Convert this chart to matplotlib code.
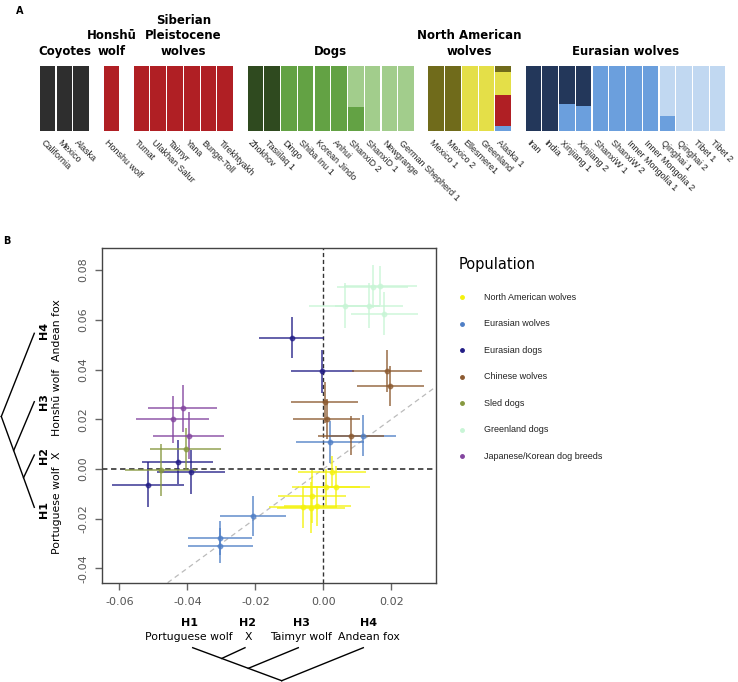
import numpy as np
import matplotlib.pyplot as plt

plt.rcParams['axes.unicode_minus'] = False
plt.rcParams['font.family'] = ['DejaVu Sans']

# ---------------- panel A data (ancestry proportions) ----------------
groups = ["Coyotes", "Honshū\nwolf", "Siberian\nPleistocene\nwolves", "Dogs",
          "North American\nwolves", "Eurasian wolves"]
group_samples = [
    ["California", "Mexico", "Alaska"],
    ["Honshu wolf"],
    ["Tumat", "Ulakhan Salur", "Taimyr", "Yana", "Bunge-Toll", "Tirekhtyakh"],
    ["Zhokhov", "Tasiilaq 1", "Dingo", "Shiba Inu 1", "Korean Jindo", "Anhui",
     "ShanxiD 2", "ShanxiD 1", "Newgrange", "German Shepherd 1"],
    ["Mexico 1", "Mexico 2", "Ellesmere1", "Greenland", "Alaska 1"],
    ["Iran", "India", "Xinjiang 1", "Xinjiang 2", "ShanxiW 1", "ShanxiW 2",
     "Inner Mongolia 1", "Inner Mongolia 2", "Qinghai 1", "Qinghai 2", "Tibet 1", "Tibet 2"],
]
cluster_colors = {"coyote": "#2e2e2e", "red": "#b01f24", "dkgreen": "#2f4a1f",
                  "green": "#63a244", "ltgreen": "#a2cd8c", "olive": "#706b1b",
                  "yellow": "#e4df48", "navy": "#23375a", "blue": "#6b9fdd",
                  "ltblue": "#c1d8f1"}
main_cluster = ["coyote", "coyote", "coyote",
                "red",
                "red", "red", "red", "red", "red", "red",
                "dkgreen", "dkgreen", "green", "green", "green", "green",
                "green", "ltgreen", "ltgreen", "ltgreen",
                "olive", "olive", "yellow", "yellow", "olive",
                "navy", "navy", "navy", "navy", "blue", "blue", "blue", "blue",
                "blue", "ltblue", "ltblue", "ltblue"]
# admixed samples: (cluster, fraction) from bottom to top
admixed = {
    "ShanxiD 2": [("green", 0.37), ("ltgreen", 0.63)],
    "Alaska 1": [("blue", 0.08), ("red", 0.47), ("yellow", 0.35), ("olive", 0.10)],
    "Xinjiang 1": [("blue", 0.41), ("navy", 0.59)],
    "Xinjiang 2": [("blue", 0.38), ("navy", 0.62)],
    "Qinghai 1": [("blue", 0.235), ("ltblue", 0.765)],
}

# ---------------- panel B data (f4 statistics) ----------------
pop_names = ["North American wolves", "Eurasian wolves", "Eurasian dogs", "Chinese wolves",
             "Sled dogs", "Greenland dogs", "Japanese/Korean dog breeds"]
pop_colors = ["#f4f20c", "#4f7fc6", "#221d86", "#8c5a30", "#86983f", "#c8f5d6", "#83459f"]

na_x = [0.0025, 0.0009, 0.0038, -0.0034, -0.0059, -0.0037, -0.0018]
na_y = [-0.0013, -0.0074, -0.0071, -0.0111, -0.0152, -0.0156, -0.0148]
na_xerr = [0.0100, 0.0100, 0.0099, 0.0101, 0.0100, 0.0100, 0.0099]
na_yerr = [0.0065, 0.0075, 0.0082, 0.0105, 0.0084, 0.0103, 0.0080]

ew_x = [0.0115, 0.0018, -0.0207, -0.0304, -0.0303]
ew_y = [0.0134, 0.0107, -0.0190, -0.0278, -0.0309]
ew_xerr = [0.0099, 0.0100, 0.0098, 0.0095, 0.0095]
ew_yerr = [0.0082, 0.0084, 0.0082, 0.0070, 0.0070]

ed_x = [-0.0093, -0.0003, -0.0429, -0.0516, -0.0389]
ed_y = [0.0528, 0.0393, 0.0028, -0.0063, -0.0011]
ed_xerr = [0.0096, 0.0093, 0.0104, 0.0106, 0.0101]
ed_yerr = [0.0082, 0.0087, 0.0090, 0.0090, 0.0089]

cw_x = [0.0188, 0.0197, 0.0004, 0.0010, 0.0081]
cw_y = [0.0393, 0.0334, 0.0268, 0.0201, 0.0134]
cw_xerr = [0.0103, 0.0098, 0.0099, 0.0099, 0.0096]
cw_yerr = [0.0084, 0.0082, 0.0082, 0.0082, 0.0080]

sd_x = [-0.0405, -0.0478]
sd_y = [0.0080, -0.0004]
sd_xerr = [0.0105, 0.0104]
sd_yerr = [0.0086, 0.0104]

gd_x = [0.0145, 0.0167, 0.0062, 0.0134, 0.0179]
gd_y = [0.0734, 0.0738, 0.0657, 0.0657, 0.0624]
gd_xerr = [0.0104, 0.0107, 0.0103, 0.0100, 0.0098]
gd_yerr = [0.0086, 0.0080, 0.0090, 0.0090, 0.0087]

jk_x = [-0.0443, -0.0414, -0.0396]
jk_y = [0.0200, 0.0244, 0.0134]
jk_xerr = [0.0107, 0.0101, 0.0104]
jk_yerr = [0.0094, 0.0094, 0.0095]

pop_data = [(na_x, na_y, na_xerr, na_yerr), (ew_x, ew_y, ew_xerr, ew_yerr),
            (ed_x, ed_y, ed_xerr, ed_yerr), (cw_x, cw_y, cw_xerr, cw_yerr),
            (sd_x, sd_y, sd_xerr, sd_yerr), (gd_x, gd_y, gd_xerr, gd_yerr),
            (jk_x, jk_y, jk_xerr, jk_yerr)]

tree_labels = ["Portuguese wolf", "X", "Taimyr wolf", "Andean fox"]
tree_labels_left = ["Portuguese wolf", "X", "Honshū wolf", "Andean fox"]

W, H = 738, 682
fig = plt.figure(figsize=(W / 100, H / 100), dpi=100)


def fbox(x0, y0, x1, y1):
    # pixel box (top-left origin) -> figure fraction rect
    return [x0 / W, 1 - y1 / H, (x1 - x0) / W, (y1 - y0) / H]


# ---------------- panel A ----------------
axA = fig.add_axes(fbox(39.3, 65.7, 726, 131))
gap = 0.8
pos = []
group_centers = []
x = 0.0
for names in group_samples:
    start = x
    for n in names:
        pos.append(x + 0.5)
        x += 1
    group_centers.append((start + x) / 2)
    x += gap
axA.set_xlim(0, x - gap)
axA.set_ylim(0, 1)
axA.axis('off')

samples = [n for names in group_samples for n in names]
for p, name, main in zip(pos, samples, main_cluster):
    parts = admixed.get(name, [(main, 1.0)])
    bottom = 0
    for cl, frac in parts:
        axA.bar(p, frac, width=0.93, bottom=bottom, color=cluster_colors[cl], linewidth=0)
        bottom += frac
    axA.text(p - 0.15, -0.11, name, rotation=-45, rotation_mode='anchor', ha='left', va='top',
             fontsize=6.5, family='Liberation Sans', color='#222222', clip_on=False)

for c, g in zip(group_centers, groups):
    axA.text(c, 1.12, g, ha='center', va='bottom', fontsize=8.5, fontweight='bold',
             linespacing=1.25, clip_on=False)

# ---------------- panel B ----------------
axB = fig.add_axes(fbox(102, 248, 436, 582.7))
axB.axhline(0, color='#444444', ls=(0, (3, 2)), lw=1.3, zorder=1)
axB.axvline(0, color='#333333', ls=(0, (3, 2)), lw=1.0, zorder=1)
axB.axline((0, 0), slope=1, color='#bbbbbb', ls=(0, (4, 3)), lw=0.9, zorder=1)

for (px, py, pxe, pye), col in zip(pop_data, pop_colors):
    axB.errorbar(px, py, xerr=pxe, yerr=pye, fmt='o', ms=3.2, color=col, ecolor=col,
                 elinewidth=1.4, capsize=0, alpha=0.7, zorder=3)

axB.set_xlim(-0.0651, 0.0331)
axB.set_ylim(-0.0458, 0.0889)
axB.set_xticks([-0.06, -0.04, -0.02, 0.0, 0.02])
axB.set_yticks([-0.04, -0.02, 0.0, 0.02, 0.04, 0.06, 0.08])
axB.set_xticklabels(["%.2f" % v for v in axB.get_xticks()])
axB.set_yticklabels(["%.2f" % v for v in axB.get_yticks()], rotation=90, va='center')
axB.tick_params(length=5, width=1, color='#666666', labelcolor='#555555', labelsize=8, pad=5)
for s in axB.spines.values():
    s.set_color('#444444')
    s.set_linewidth(1.0)

# ---------------- annotations (pixel coords overlay) ----------------
axO = fig.add_axes([0, 0, 1, 1])
axO.set_xlim(0, W)
axO.set_ylim(H, 0)
axO.axis('off')
axO.patch.set_alpha(0)

axO.text(20, 11, "A", fontsize=7, fontweight='bold', ha='center', va='center')
axO.text(7, 241, "B", fontsize=7, fontweight='bold', ha='center', va='center')


def draw_tree(leaves, root, ts):
    l1 = np.array(leaves[0])
    r = np.array(root)
    axO.plot([l1[0], r[0]], [l1[1], r[1]], color='black', lw=1)
    for leaf, t in zip(leaves[1:3], ts):
        j = l1 + t * (r - l1)
        axO.plot([leaf[0], j[0]], [leaf[1], j[1]], color='black', lw=1)
    axO.plot([leaves[3][0], r[0]], [leaves[3][1], r[1]], color='black', lw=1)


# bottom tree
bx = [192.7, 245, 298.3, 363.3]
bx_lab = [189, 248, 301, 369]
draw_tree([(v, 647.7) for v in bx], (281.7, 680.7), [0.326, 0.625])
for i, v in enumerate(bx_lab):
    axO.text(v, 622.5, "H%d" % (i + 1), fontsize=8, fontweight='bold', ha='center', va='center')
    axO.text(v, 636.5, tree_labels[i], fontsize=7.8, ha='center', va='center')

# left tree
ly = [507.3, 455, 401.7, 333.3]
ly_lab = [510, 455, 402, 330]
draw_tree([(34.3, v) for v in ly], (1.3, 416.5), [0.326, 0.625])
for i, v in enumerate(ly_lab):
    axO.text(44.5, v, "H%d" % (i + 1), fontsize=8, fontweight='bold', ha='center', va='center',
             rotation=90)
    axO.text(57, v, tree_labels_left[i], fontsize=7.8, ha='center', va='center', rotation=90)

# legend
axO.text(459, 264, "Population", fontsize=10.5, ha='left', va='center')
for i, (name, col) in enumerate(zip(pop_names, pop_colors)):
    yy = 297.3 + i * 26.5
    axO.plot(461.7, yy, 'o', ms=2.5, color=col)
    axO.text(483.5, yy, name, fontsize=6.5, family='Liberation Sans', color='#222222',
             ha='left', va='center')

fig.savefig("out.png", dpi=100)
